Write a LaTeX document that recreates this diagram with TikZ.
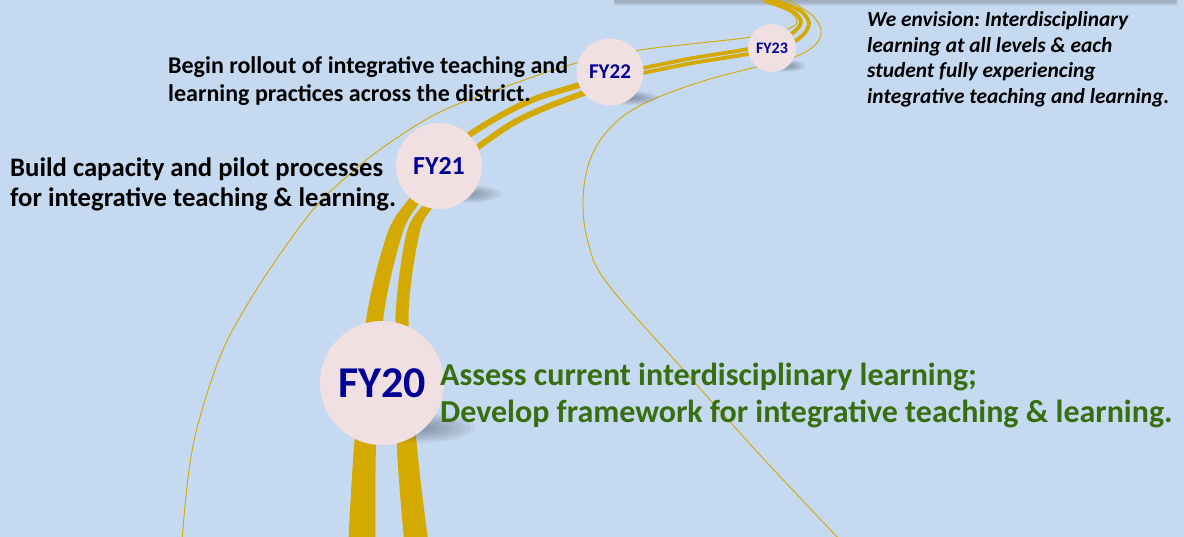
\documentclass[tikz,border=0pt]{standalone}
\usepackage{fontspec}
\setmainfont{Carlito}
\frenchspacing
\definecolor{bgblue}{RGB}{197,217,240}
\definecolor{circfill}{RGB}{240,224,226}
\definecolor{fynavy}{RGB}{0,0,150}
\definecolor{goalgreen}{RGB}{55,110,15}
\definecolor{roadgold}{RGB}{212,169,0}
\definecolor{shadowcol}{RGB}{70,80,95}
\definecolor{barcol}{RGB}{160,172,186}
\newcommand{\softshadow}[4]{%
  \foreach \k in {0,...,9} {%
    \fill[shadowcol, opacity=0.055] (#1,#2) ellipse [x radius={#3*(1-\k/11)}, y radius={#4*(1-\k/11)}];
  }%
}
\tikzset{
  thinroad/.style={draw=roadgold, line width=0.9pt},
  fystop/.style={circle, fill=circfill, inner sep=0pt, font=\bfseries, text=fynavy},
  blacktext/.style={anchor=base west, inner sep=0pt, font=\bfseries},
  goaltext/.style={anchor=base west, inner sep=0pt, font=\fontsize{32}{38}\selectfont\bfseries, text=goalgreen},
  visiontext/.style={anchor=base west, inner sep=0pt, font=\fontsize{21.4}{25}\selectfont\bfseries\itshape}
}
\begin{document}
\begin{tikzpicture}[x=1pt,y=-1pt]
\useasboundingbox (0,0) rectangle (1184,537);
\fill[bgblue] (0,0) rectangle (1184,537);

% box edge at the top
\foreach \k in {0,...,5} {
  \fill[shadowcol, opacity=0.06] (615-\k*0.3,-10) rectangle (1176+\k*0.3,{2+\k*0.8});
}
\fill[barcol] (615,-10) rectangle (1176,2.2);

% thin road borders
\draw[thinroad] plot[smooth, tension=0.6] coordinates {(182,540) (189,470) (200,417) (222,352) (250,300) (283,250) (317,205) (350,174) (385,146) (440,112) (510,85) (580,62) (640,50) (700,43) (752,37) (785,30) (797,22) (790,12) (772,4) (758,-2)};
\draw[thinroad] plot[smooth, tension=0.6] coordinates {(840,540) (760,455) (680,366) (607,283) (588,242) (583,200) (590,160) (610,128) (643,104) (700,82) (760,66) (797,56) (816,44) (821,30) (813,16) (800,7) (788,0)};

% thick stripes, lower part (variable width)
\fill[roadgold] plot[smooth] coordinates {(348.5,540) (354,447) (366.5,317) (387.5,233) (408,200) (428,176)}
  -- plot[smooth] coordinates {(438,181) (420,202) (402.5,233) (383.5,317) (376,447) (375.5,540)} -- cycle;
\fill[roadgold] plot[smooth] coordinates {(404,540) (397,447) (395.5,317) (406.5,233) (423,205) (437,190)}
  -- plot[smooth] coordinates {(446,196) (433,207) (419.5,233) (408.5,317) (417,447) (428,540)} -- cycle;

% stripes between FY21 and FY22
\draw[roadgold, line width=6pt] plot[smooth] coordinates {(452,150) (472,133) (507,112) (540,97) (590,82)};
\draw[roadgold, line width=6pt] plot[smooth] coordinates {(460,162) (478,147) (513,123) (547,107) (592,90)};
% stripes between FY22 and FY23 and the curl
\draw[roadgold, line width=3.8pt] plot[smooth] coordinates {(630,70) (643,68) (693,58) (748,49) (780,40) (795,31) (801,22) (795,13) (780,6) (765,1)};
\draw[roadgold, line width=3.8pt] plot[smooth] coordinates {(630,76) (643,73) (693,63) (748,54) (785,46) (803,35) (809,23) (801,11) (785,4) (770,-1)};

% shadows
\softshadow{418}{428}{58}{15}
\softshadow{466}{194}{36}{9}
\softshadow{632}{98}{27}{7}
\softshadow{786}{66}{20}{6}

% milestones
\node[fystop, minimum size=124pt, font=\fontsize{44}{44}\selectfont\bfseries] (fy20) at (382,383) {FY20};
\node[fystop, minimum size=86pt, font=\fontsize{26}{26}\selectfont\bfseries] (fy21) at (439,166) {FY21};
\node[fystop, minimum size=67pt, font=\fontsize{21}{21}\selectfont\bfseries] (fy22) at (610,72) {FY22};
\node[fystop, minimum size=48pt, font=\fontsize{16}{16}\selectfont\bfseries] (fy23) at (772,48) {FY23};

% texts
\node[blacktext, font=\fontsize{24}{28}\selectfont\bfseries] (t22a) at (168,74) {Begin rollout of integrative teaching and};
\node[blacktext, font=\fontsize{24}{28}\selectfont\bfseries] (t22b) at (168,102) {learning practices across the district.};
\node[blacktext, font=\fontsize{26.7}{30}\selectfont\bfseries] (t21a) at (10,177) {Build capacity and pilot processes};
\node[blacktext, font=\fontsize{26.7}{30}\selectfont\bfseries] (t21b) at (10,207) {for integrative teaching \& learning.};
\node[goaltext] (t20a) at (440,385) {Assess current interdisciplinary learning;};
\node[goaltext] (t20b) at (440,422) {Develop framework for integrative teaching \& learning.};
\node[visiontext] (v1) at (867,27) {We envision: Interdisciplinary};
\node[visiontext] (v2) at (867,53) {learning at all levels \& each};
\node[visiontext] (v3) at (867,78) {student fully experiencing};
\node[visiontext] (v4) at (867,104) {integrative teaching and learning.};
\end{tikzpicture}
\end{document}
